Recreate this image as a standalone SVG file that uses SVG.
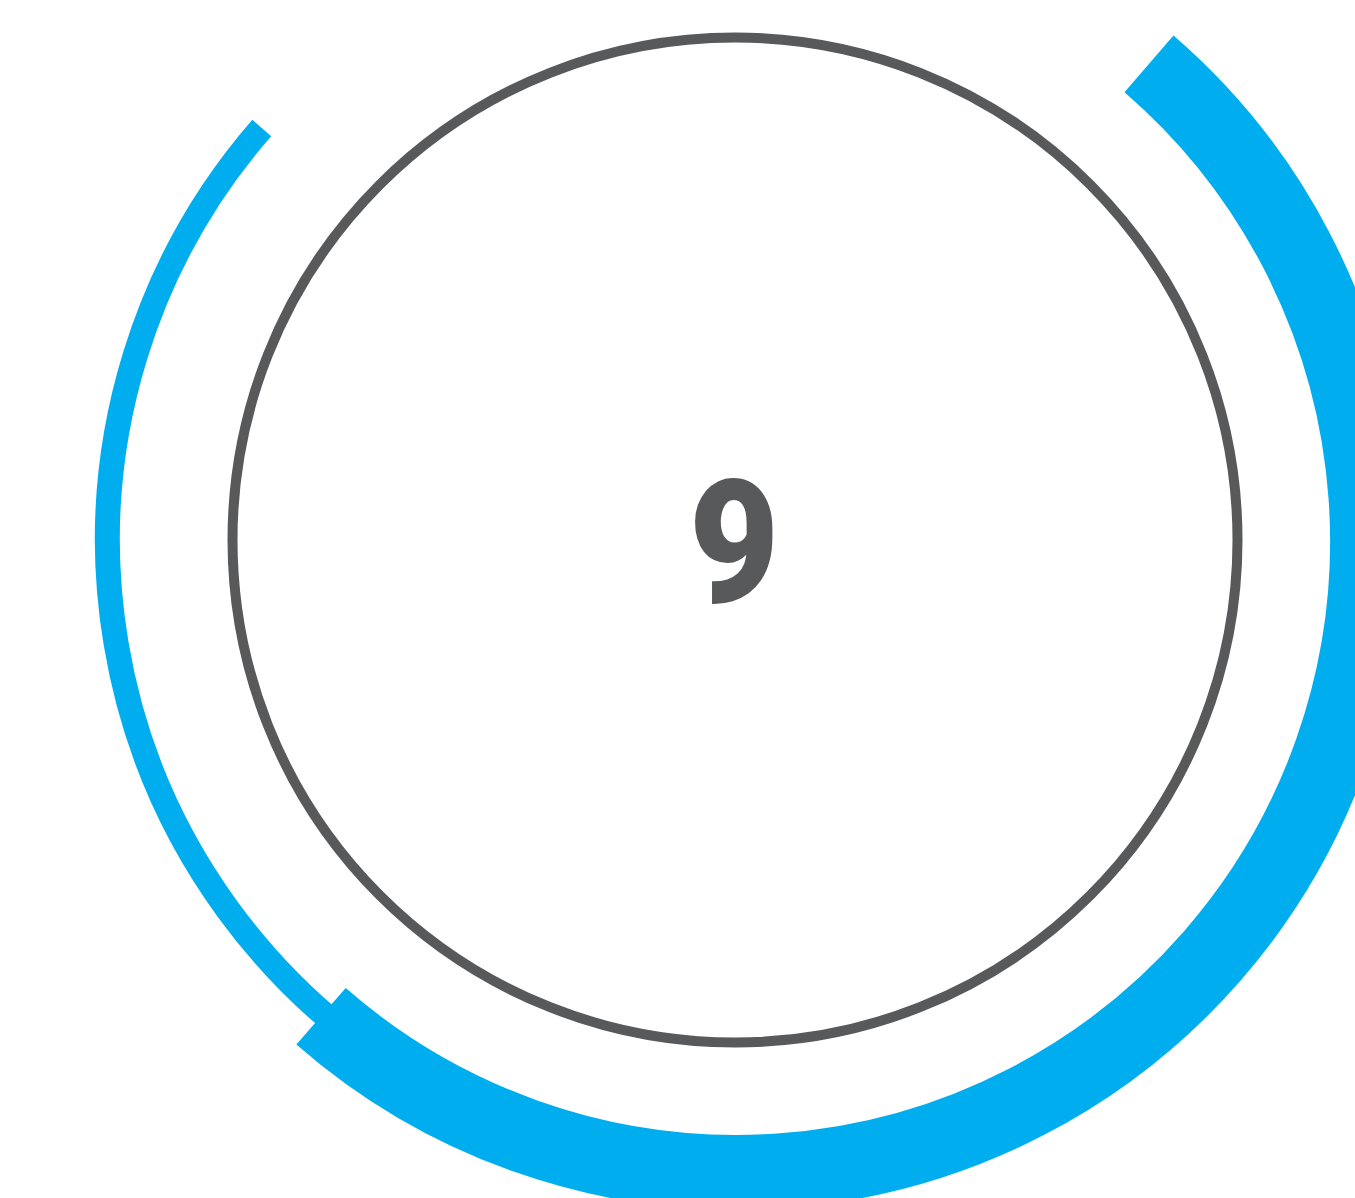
<svg xmlns="http://www.w3.org/2000/svg" width="1355" height="1198" viewBox="0 0 1355 1198">
  <style>
    .arc { fill: none; stroke: #00AEEF; stroke-linecap: butt; }
    .ring { fill: none; stroke: #58595B; stroke-width: 10; }
    .num { font-family: "Roboto", "Liberation Sans", sans-serif; font-weight: 900; font-size: 173px; fill: #58595B; }
  </style>
  <rect width="1355" height="1198" fill="#FFFFFF"/>
  <g id="arcs">
    <path id="thin-arc" class="arc" stroke-width="25" d="M 261.74 127.92 A 627.5 627.5 0 0 0 421.25 1083.43"/>
    <path id="thick-arc" class="arc" stroke-width="75" d="M 1148.97 63.78 A 631 631 0 1 1 321.03 1016.22"/>
  </g>
  <g id="center-node">
    <circle class="ring" cx="735" cy="540" r="502.5"/>
    <text class="num" transform="translate(734 602) scale(0.9 1)" x="0" y="0" text-anchor="middle">9</text>
  </g>
</svg>
